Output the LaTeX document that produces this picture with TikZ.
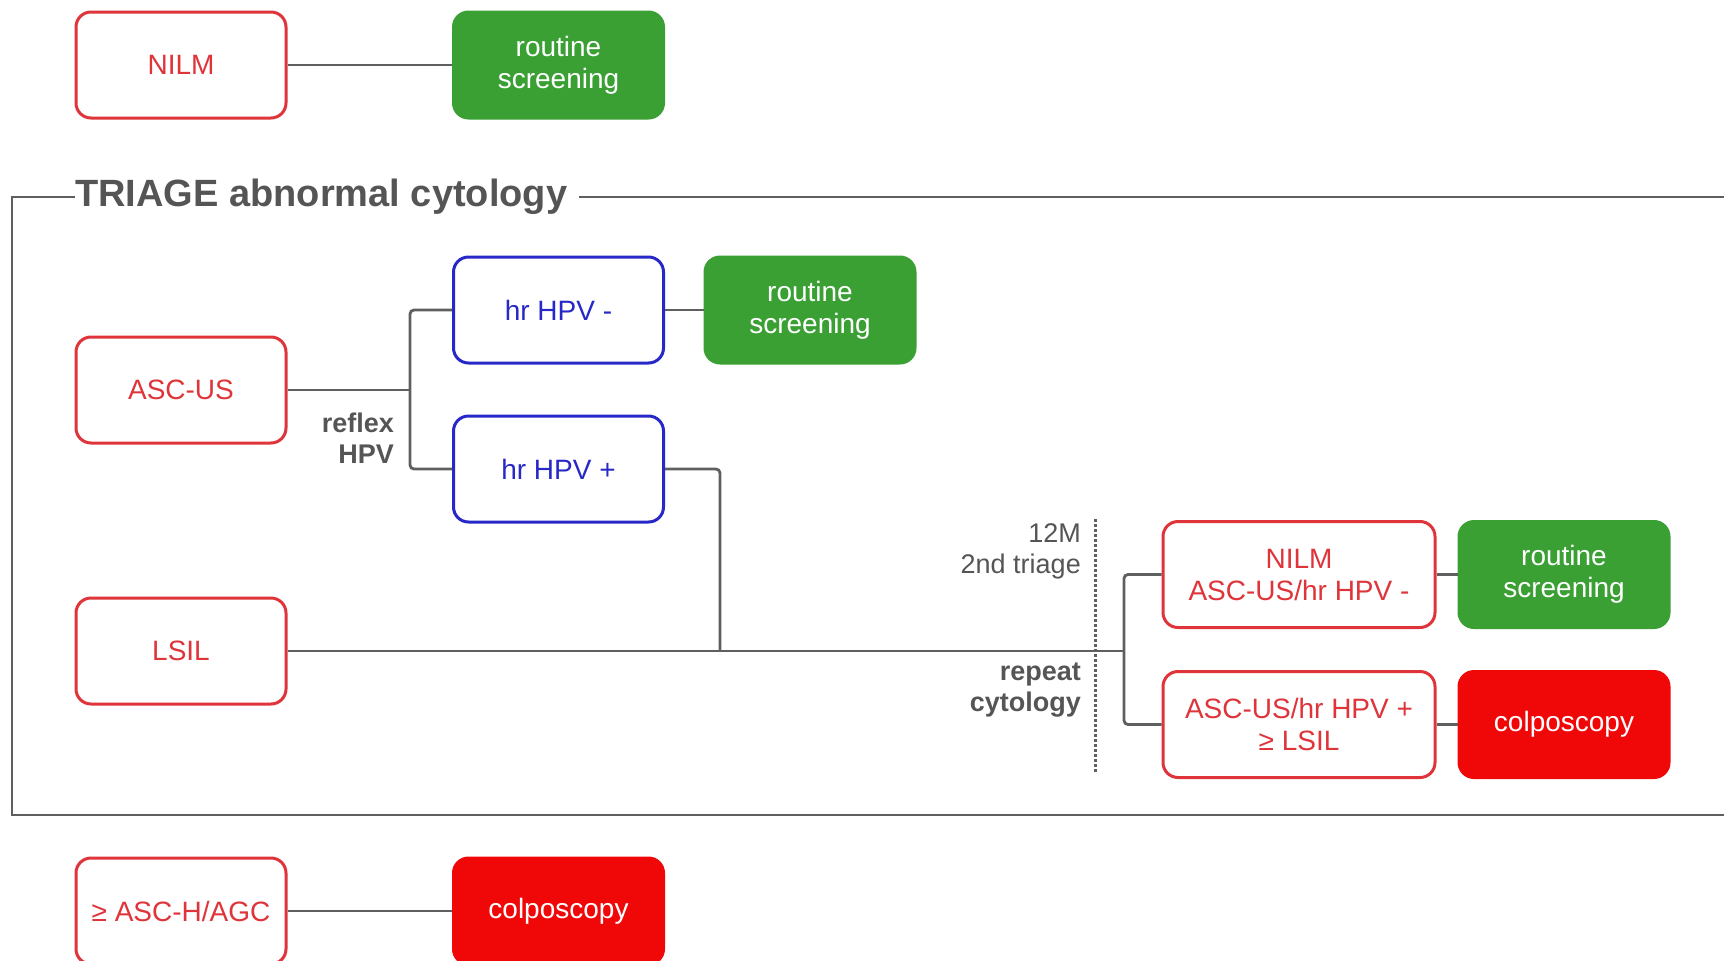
\documentclass[tikz,border=0pt]{standalone}
\usepackage{fontspec}
\setmainfont{Liberation Sans}
\definecolor{bred}{RGB}{222,52,58}
\definecolor{bblue}{RGB}{40,40,200}
\definecolor{bgreen}{RGB}{58,160,52}
\definecolor{fred}{RGB}{240,8,8}
\definecolor{lgray}{RGB}{95,95,95}
\definecolor{tgray}{RGB}{85,85,85}
\tikzset{
  box/.style={rectangle, rounded corners=15pt, minimum width=210pt, minimum height=106pt, line width=3pt, align=center, font=\fontsize{28}{32}\selectfont, inner sep=2pt},
  redbox/.style={box, draw=bred, text=bred, fill=white},
  bluebox/.style={box, draw=bblue, text=bblue, fill=white},
  greenbox/.style={box, draw=bgreen, fill=bgreen, text=white},
  redfill/.style={box, draw=fred, fill=fred, text=white},
  conn/.style={draw=lgray, line width=2.8pt, rounded corners=4pt},
  lbl/.style={anchor=east, align=right, text=tgray, inner sep=0pt, font=\fontsize{27}{31}\selectfont},
  blbl/.style={lbl, font=\fontsize{27}{31}\selectfont\bfseries}
}
\begin{document}
\begin{tikzpicture}[x=1pt,y=-1pt]
\useasboundingbox (0,0) rectangle (1724,961);
% frame
\node[anchor=west, inner sep=0pt, text=tgray, font=\fontsize{38}{40}\selectfont\bfseries] (title) at (75,197) {TRIAGE abnormal cytology};
\draw[draw=lgray, line width=2.4pt] (title.west) -- (12,197) -- (12,815) -- (1740,815);
\draw[draw=lgray, line width=2.4pt] ([xshift=12pt]title.east) -- (1740,197);
% nodes
\node[redbox] (nilm) at (181,65) {NILM};
\node[greenbox] (rs1) at (558.5,65) {routine\\screening};
\node[redbox] (ascus) at (181,390) {ASC-US};
\node[bluebox] (hpvneg) at (558.5,310) {hr HPV -};
\node[greenbox] (rs2) at (810,310) {routine\\screening};
\node[bluebox] (hpvpos) at (558.5,469) {hr HPV +};
\node[redbox] (lsil) at (181,651) {LSIL};
\node[redbox, minimum width=272pt] (nilm2) at (1299,574.5) {NILM\\ASC-US/hr HPV -};
\node[greenbox] (rs3) at (1564,574.5) {routine\\screening};
\node[redbox, minimum width=272pt] (ascus2) at (1299,724.5) {ASC-US/hr HPV +\\≥ LSIL};
\node[redfill] (colpo2) at (1564,724.5) {colposcopy};
\node[redbox] (asch) at (181,911) {≥ ASC-H/AGC};
\node[redfill] (colpo3) at (558.5,911) {colposcopy};
% junctions
\coordinate (br1) at (410,390);
\coordinate (j1) at (720,651);
\coordinate (br2) at (1124,651);
\coordinate (dtop) at (1095,519);
\coordinate (dbot) at (1095,772);
% labels
\node[blbl] (reflex) at (394,438) {reflex\\HPV};
\node[lbl] (tri) at (1081,551) {12M\\2nd triage};
\node[blbl] (rep) at (1081,690) {repeat\\cytology};
% connectors
\draw[conn] (nilm) -- (rs1);
\draw[conn] (ascus) -- (br1);
\draw[conn] (hpvneg.west) -| (br1) |- (hpvpos.west);
\draw[conn] (hpvneg) -- (rs2);
\draw[conn] (hpvpos.east) -| (j1);
\draw[conn] (lsil) -- (br2);
\draw[conn] (nilm2.west) -| (br2) |- (ascus2.west);
\draw[conn] (nilm2) -- (rs3);
\draw[conn] (ascus2) -- (colpo2);
\draw[conn] (asch) -- (colpo3);
\draw[draw=lgray, line width=3pt, dotted] (dtop) -- (dbot);
\end{tikzpicture}
\end{document}
